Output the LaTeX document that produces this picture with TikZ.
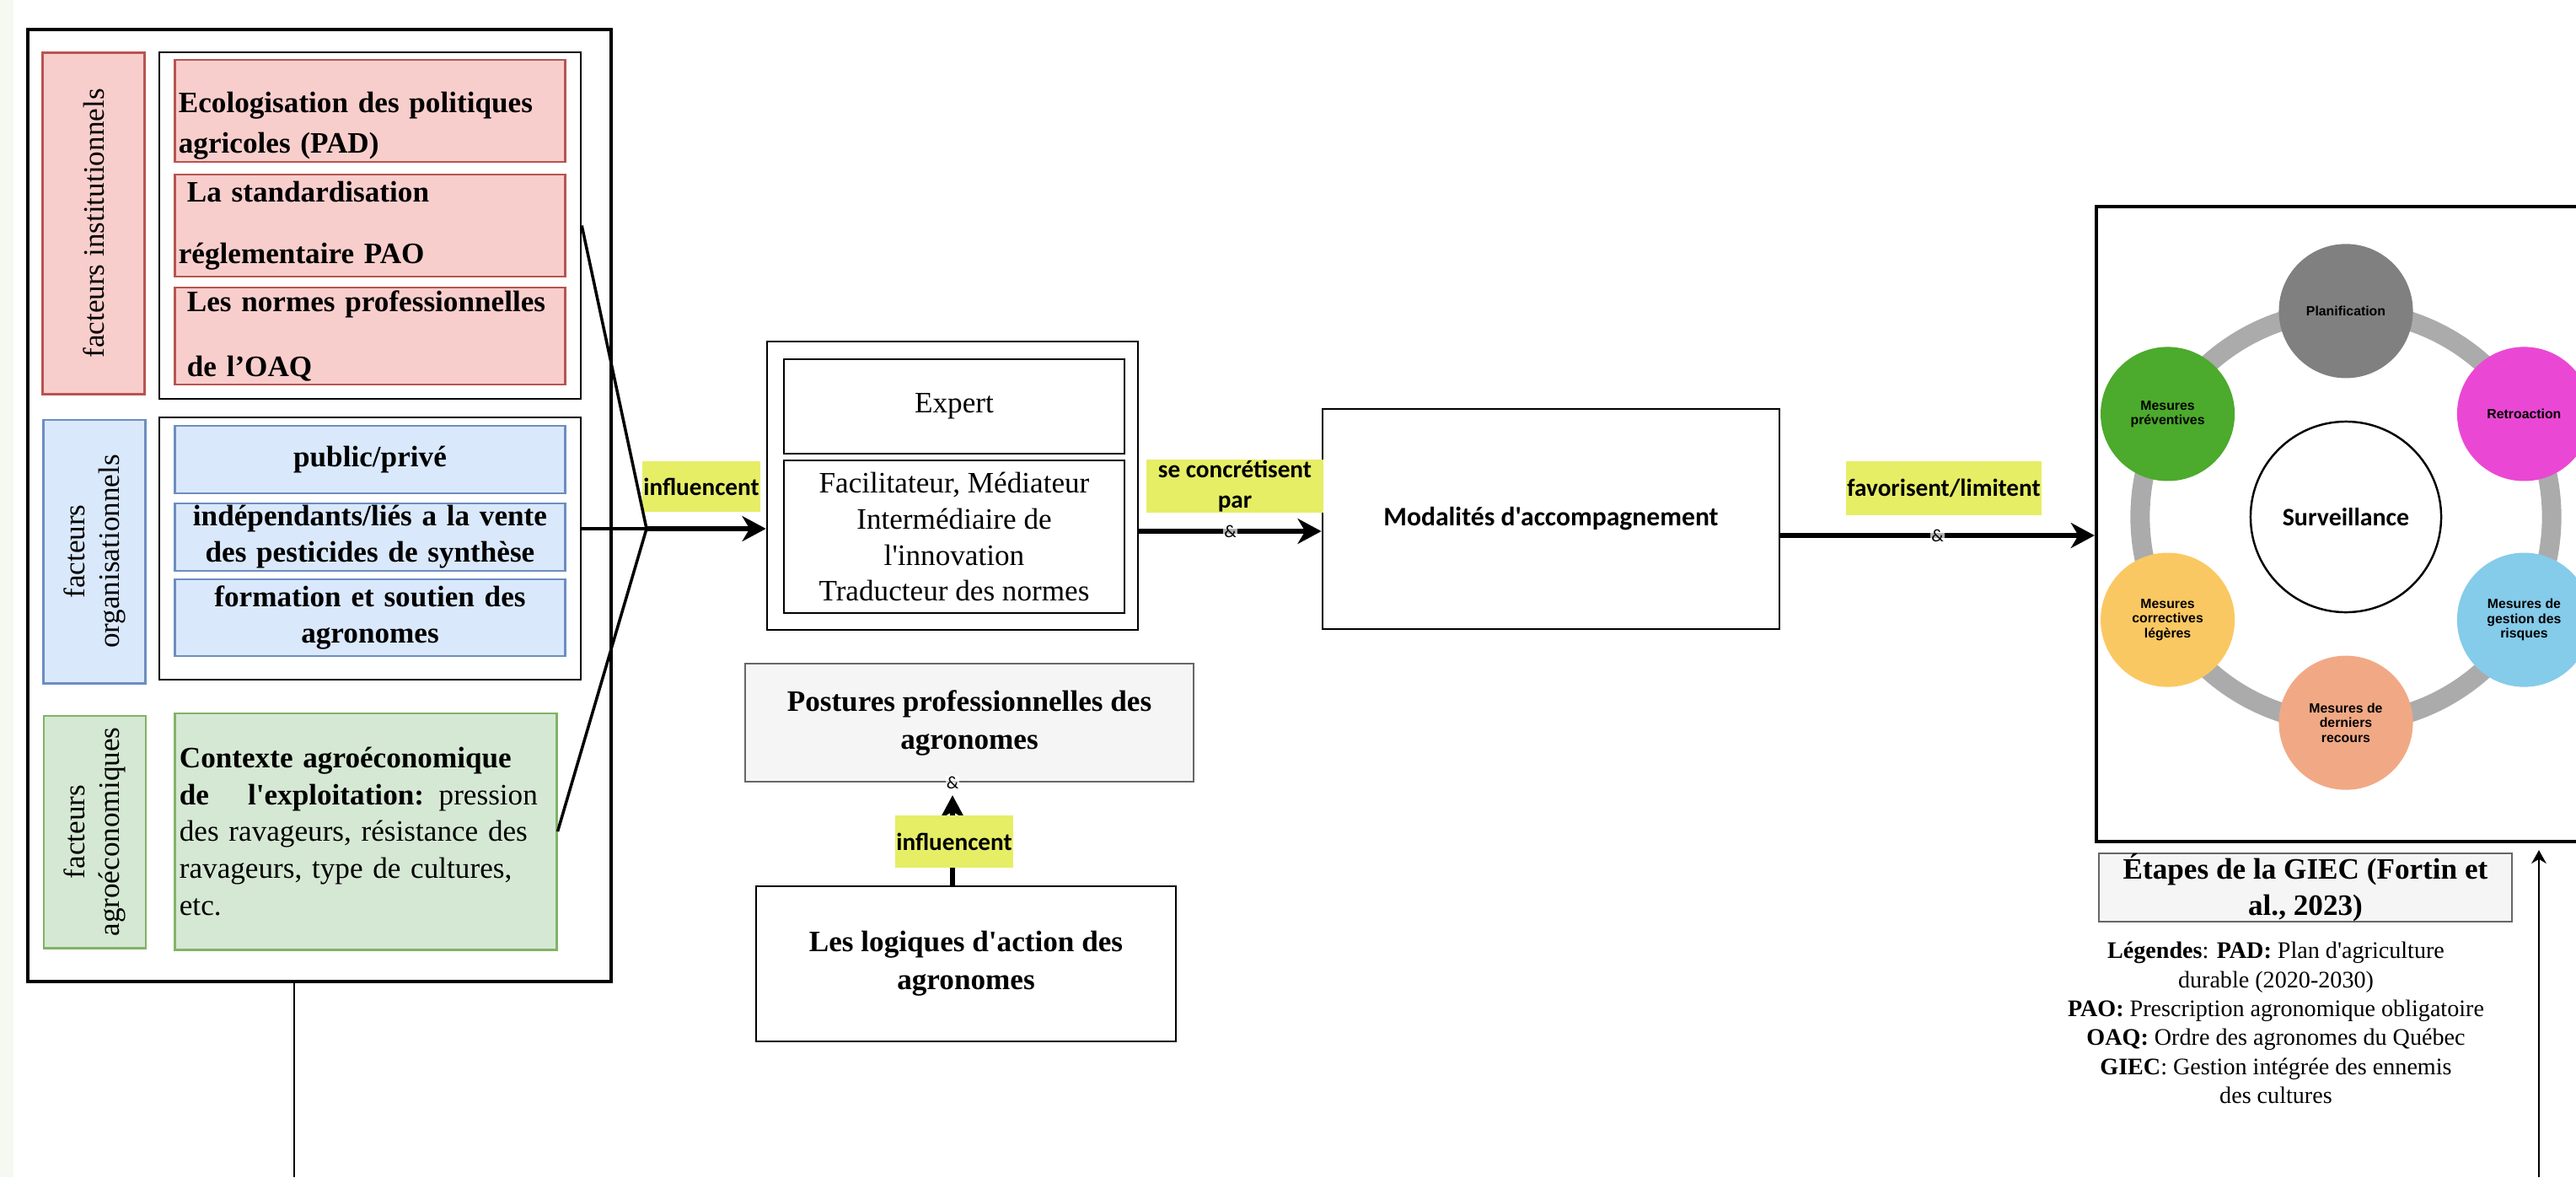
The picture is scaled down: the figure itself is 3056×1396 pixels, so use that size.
\documentclass[tikz,border=0pt]{standalone}
\usepackage{fontspec}
\setmainfont{Liberation Serif}[Ligatures=TeXOff]
\newfontfamily\calibri{Carlito}
\newfontfamily\arial{Liberation Sans}
\usetikzlibrary{arrows.meta,positioning,calc}

\definecolor{instFill}{HTML}{F8CECC}
\definecolor{instLine}{HTML}{B85450}
\definecolor{orgFill}{HTML}{DAE8FC}
\definecolor{orgLine}{HTML}{6C8EBF}
\definecolor{agroFill}{HTML}{D5E8D4}
\definecolor{agroLine}{HTML}{82B366}
\definecolor{verbYellow}{HTML}{E6EE66}
\definecolor{noteFill}{HTML}{F5F5F5}
\definecolor{noteLine}{HTML}{666666}
\definecolor{ringGray}{HTML}{ABABAB}
\definecolor{stepPlan}{HTML}{808080}
\definecolor{stepRetro}{HTML}{EA48D4}
\definecolor{stepRisk}{HTML}{85CBEA}
\definecolor{stepLast}{HTML}{F1A985}
\definecolor{stepCorr}{HTML}{FAC862}
\definecolor{stepPrev}{HTML}{4CAA2C}
\definecolor{stripTint}{HTML}{F6F9F1}

\newcommand{\serifreg}{\fontsize{10}{12.2}\selectfont}
\newcommand{\serifbold}{\fontsize{10}{12.2}\selectfont\bfseries}

\tikzset{
  box/.style={rectangle, draw, inner sep=0pt, line width=0.6pt},
  instbox/.style={box, fill=instFill, draw=instLine, line width=0.8pt},
  orgbox/.style={box, fill=orgFill, draw=orgLine, line width=0.8pt},
  agrobox/.style={box, fill=agroFill, draw=agroLine, line width=0.8pt},
  notebox/.style={box, fill=noteFill, draw=noteLine},
  sidelabel/.style={rotate=90, minimum height=1.21cm, align=center, font=\fontsize{10}{11.7}\selectfont},
  itemleft/.style={minimum width=4.62cm, text width=4.54cm, align=left, font=\serifbold},
  itemmid/.style={minimum width=4.62cm, text width=4.54cm, align=center, font=\serifbold},
  verb/.style={fill=verbYellow, inner sep=0pt, align=center, font=\calibri\bfseries\fontsize{8.3}{10.5}\selectfont},
  amp/.style={inner sep=0.3pt, fill=white, fill opacity=0.7, text opacity=1, font=\calibri\fontsize{6}{6}\selectfont},
  link/.style={line width=1pt},
  flow/.style={-{Stealth[length=8pt,width=8.5pt,inset=2.5pt]}, line width=1.6pt},
  thinflow/.style={-{Stealth[length=4.5pt,width=5pt]}, line width=0.6pt},
  stepdot/.style={circle, inner sep=0pt, minimum size=1.59cm, align=center, font=\arial\bfseries\fontsize{4.5}{4.9}\selectfont}
}

\begin{document}
\begin{tikzpicture}[x=0.01cm, y=-0.01cm]
\useasboundingbox (0,0) rectangle (3056,1396);
\clip (0,0) rectangle (3056,1396);
\fill[stripTint] (0,0) rectangle (16,1396);

% facteurs
\node[box, line width=1.2pt, minimum width=6.92cm, minimum height=11.29cm] (frame) at (379,599.5) {};

\node[instbox, sidelabel, minimum width=4.04cm] (labInst) at (111,265) {facteurs institutionnels};
\node[box, minimum width=5.00cm, minimum height=4.11cm] (grpInst) at (439,267.5) {};
\node[instbox, itemleft, minimum height=1.21cm] (ecolo) at (439,131.5) {\rule{0pt}{17pt}Ecologisation des politiques\\[1.7pt]agricoles (PAD)};
\node[instbox, itemleft, minimum height=1.21cm] (stand) at (439,267.5) {\hspace{0.1cm}La standardisation\\[8.5pt]réglementaire PAO};
\node[instbox, itemleft, minimum height=1.15cm] (normes) at (439,398.5) {\hspace{0.1cm}Les normes professionnelles\\[9.6pt]\hspace{0.1cm}de l’OAQ};

\node[orgbox, sidelabel, minimum width=3.12cm] (labOrg) at (112,654) {facteurs\\organisationnels};
\node[box, minimum width=5.00cm, minimum height=3.11cm] (grpOrg) at (439,650.5) {};
\node[orgbox, itemmid, minimum height=0.80cm] (pubpriv) at (439,545) {public/privé};
\node[orgbox, itemmid, minimum height=0.80cm] (indep) at (439,637) {indépendants/liés a la vente\\des pesticides de synthèse};
\node[orgbox, itemmid, minimum height=0.91cm] (formation) at (439,732.5) {formation et soutien des\\agronomes};

\node[agrobox, sidelabel, minimum width=2.75cm] (labAgro) at (112.5,986.5) {facteurs\\agroéconomiques};
\node[agrobox, minimum width=4.52cm, minimum height=2.80cm, text width=4.42cm, align=left, font=\fontsize{10}{12.5}\selectfont] (contexte) at (434,986)
  {\textbf{Contexte agroéconomique}\\\textbf{de\hspace{0.46cm}l'exploitation:} pression\\des ravageurs, résistance des\\ravageurs, type de cultures,\\etc.};

% postures
\node[box, line width=0.7pt, minimum width=4.40cm, minimum height=3.42cm] (posture) at (1130,576) {};
\node[box, minimum width=4.04cm, minimum height=1.12cm, font=\serifreg] (expert) at (1132,482) {Expert};
\node[box, minimum width=4.04cm, minimum height=1.81cm, align=center, font=\serifreg] (roles) at (1132,636.5)
  {Facilitateur, Médiateur\\Intermédiaire de\\l'innovation\\Traducteur des normes};

\node[notebox, minimum width=5.32cm, minimum height=1.40cm, align=center, font=\fontsize{10}{12.8}\selectfont\bfseries] (postures) at (1150,857) {Postures professionnelles des\\agronomes};
\node[box, minimum width=4.98cm, minimum height=1.84cm, align=center, font=\fontsize{10}{12.8}\selectfont\bfseries] (logiques) at (1146,1143) {Les logiques d'action des\\agronomes};

\node[box, line width=0.7pt, minimum width=5.42cm, minimum height=2.61cm, font=\calibri\bfseries\fontsize{9}{11}\selectfont] (modal) at (1840,615.5) {Modalités d'accompagnement};

% GIEC
\node[box, line width=1.1pt, minimum width=5.93cm, minimum height=7.53cm] (giec) at (2783.5,621.5) {};
\coordinate (ringc) at (2783,613);
\draw[ringGray, line width=0.23cm] (ringc) circle[radius=2.44cm];
\node[circle, draw, line width=0.7pt, fill=white, minimum size=2.26cm, font=\calibri\bfseries\fontsize{8.5}{10}\selectfont] (surv) at (ringc) {Surveillance};
\foreach \ang/\nm/\col/\txt in {90/plan/stepPlan/Planification, 30/retro/stepRetro/Retroaction,
    -30/risk/stepRisk/{Mesures de\\gestion des\\risques}, -90/last/stepLast/{Mesures de\\derniers\\recours},
    210/corr/stepCorr/{Mesures\\correctives\\légères}, 150/prev/stepPrev/{Mesures\\préventives}}
  \node[stepdot, fill=\col] (\nm) at ($(ringc)+(\ang:2.44cm)$) {\txt};

\node[notebox, minimum width=4.90cm, minimum height=0.81cm, align=center, font=\serifbold] (etapes) at (2735,1052.5) {Étapes de la GIEC (Fortin et\\al., 2023)};
\node[inner sep=0pt, align=center, font=\fontsize{8}{9.75}\selectfont] (legende) at (2700,1213)
  {\textbf{Légendes}: \textbf{PAD:} Plan d'agriculture\\durable (2020-2030)\\\textbf{PAO:} Prescription agronomique obligatoire\\\textbf{OAQ:} Ordre des agronomes du Québec\\\textbf{GIEC}: Gestion intégrée des ennemis\\des cultures};

% connecteurs
\coordinate (conv) at (767,627);
\coordinate (lvl2) at (0,630);
\coordinate (lvl3) at (0,635);
\coordinate (upx) at (1130,0);
\coordinate (footL) at (349,1396);
\coordinate (footR) at (3012,1396);

\node[verb, minimum width=1.40cm, minimum height=0.60cm] (verbInfl) at (832,577) {influencent};
\draw[link] (grpInst.east) -- (conv);
\draw[link] (contexte.east) -- (conv);
\draw[link] (grpOrg.east |- conv) -- (conv);
\draw[flow] (conv) -- (conv -| posture.west);

\node[verb, minimum width=2.10cm, minimum height=0.61cm] (verbConc) at (1465,576.5) {se concrétisent\\par};
\draw[flow] (posture.east |- lvl2) -- node[amp] (amp1) {\&} (modal.west |- lvl2);

\node[verb, minimum width=2.32cm, minimum height=0.64cm] (verbFav) at (2306,579) {favorisent/limitent};
\draw[flow] (modal.east |- lvl3) -- node[amp] (amp2) {\&} (giec.west |- lvl3);

\draw[flow, shorten >=0.15cm] (logiques.north -| upx) -- (postures.south -| upx);
\node[amp] (amp3) at (postures.south -| upx) {\&};
\node[verb, minimum width=1.40cm, minimum height=0.62cm] (verbInfl2) at (1132,998) {influencent};

\draw[line width=0.6pt] (frame.south -| footL) -- (footL);
\draw[thinflow, shorten >=0.08cm] (footR) -- (giec.south -| footR);
\end{tikzpicture}
\end{document}
